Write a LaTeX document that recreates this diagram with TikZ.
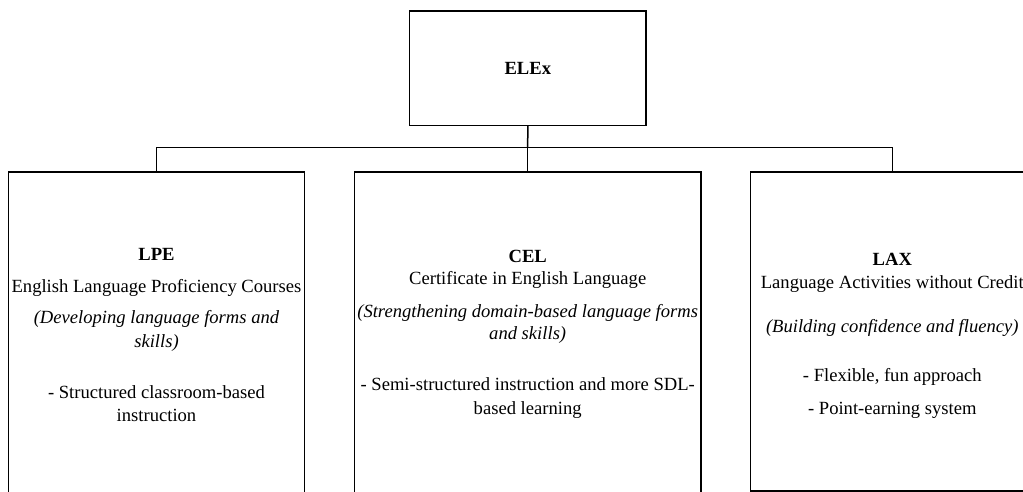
\documentclass[tikz,border=0pt]{standalone}
\usepackage{fontspec}
\setmainfont{Liberation Serif}
\begin{document}
\begin{tikzpicture}[x=1pt, y=-1pt, line width=1.5pt,
  box/.style={draw, rectangle, inner sep=0pt, align=center,
    font=\fontsize{18.6}{23}\selectfont},
  ]
\useasboundingbox (0,0) rectangle (1023,492);
\clip (0,0) rectangle (1023,492);
% Top unit
\node[box, minimum width=236.3pt, minimum height=114.3pt] (elex) at (527.8,68.2) {\textbf{ELEx}};
% The three strands
\node[box, minimum width=296.4pt, minimum height=326pt] (lpe) at (156.5,335) {%
  \textbf{LPE}\\[9pt]
  English Language Proficiency Courses\\[7.5pt]
  \textit{(Developing language forms and}\\[1.5pt]
  \textit{skills)}\\[27.5pt]
  - Structured classroom-based\\
  instruction};
\node[box, minimum width=346.7pt, minimum height=325pt] (cel) at (527.7,334.5) {%
  \textbf{CEL}\\[-1pt]
  Certificate in English Language\\[10pt]
  \textit{(Strengthening domain-based language forms}\\[-1pt]
  \textit{and skills)}\\[28pt]
  - Semi-structured instruction and more SDL-\\[1pt]
  based learning};
\node[box, minimum width=283.2pt, minimum height=319pt] (lax) at (892.3,331.5) {%
  \rule{0pt}{21pt}\textbf{LAX}\\
  Language Activities without Credit\\[21pt]
  \textit{(Building confidence and fluency)}\\[26pt]
  - Flexible, fun approach\\[9.5pt]
  - Point-earning system};
% Connectors
\coordinate (bus) at (527.7,147.7);
\draw (elex.south) -- (bus);
\draw (lpe.north) |- (bus) -| (lax.north);
\draw (bus) -- (cel.north);
\end{tikzpicture}
\end{document}
